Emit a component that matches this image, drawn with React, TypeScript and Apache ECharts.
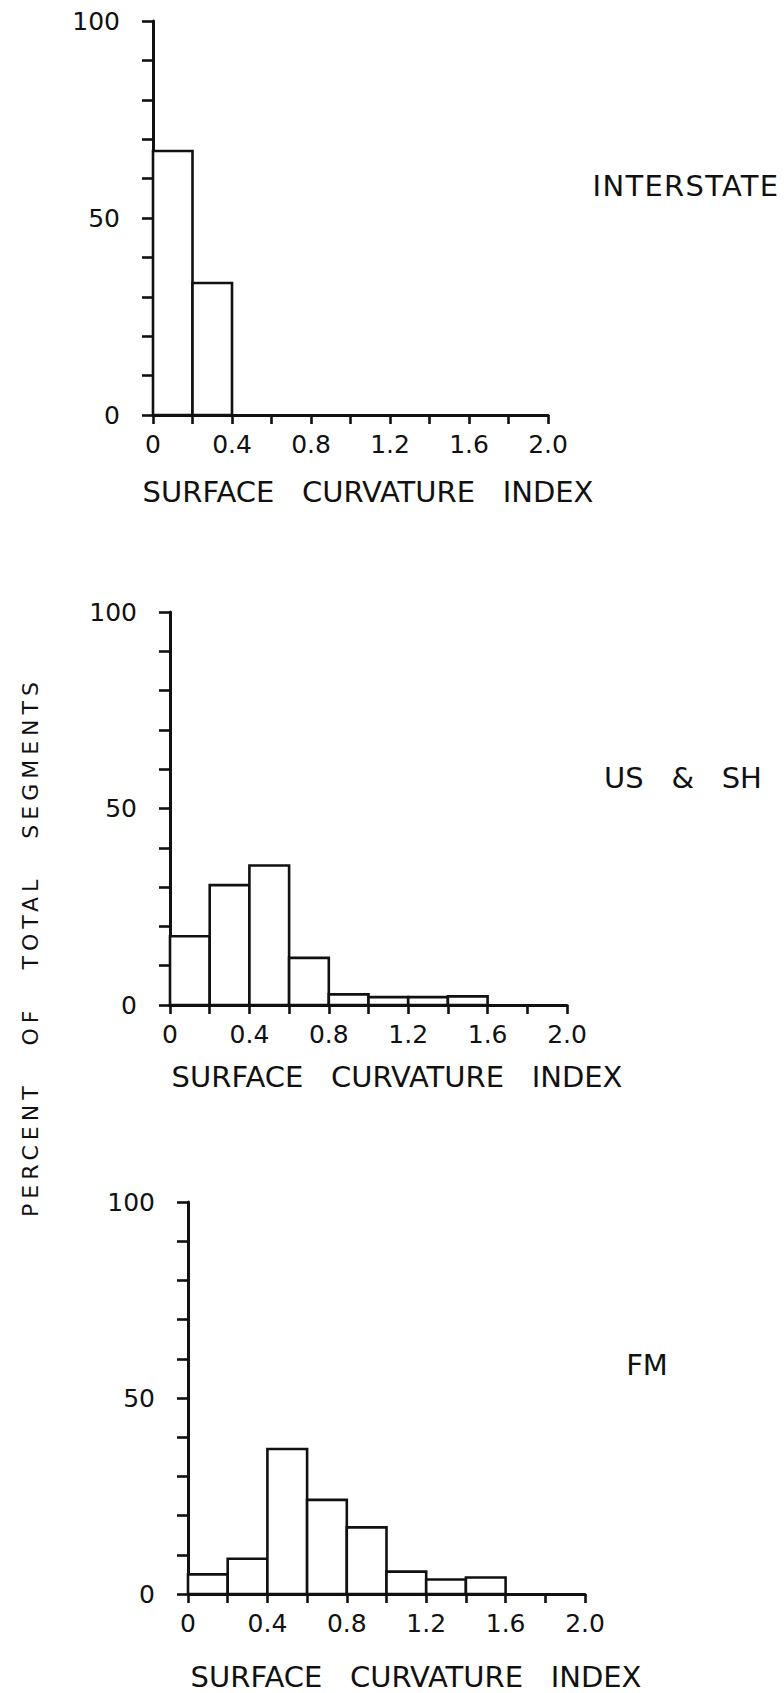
import React, { useEffect, useRef } from "react";
import * as echarts from "echarts";

// ---- data ----
const binStarts = [0, 0.2, 0.4, 0.6, 0.8, 1.0, 1.2, 1.4, 1.6, 1.8];
const binEnds = [0.2, 0.4, 0.6, 0.8, 1.0, 1.2, 1.4, 1.6, 1.8, 2.0];
const interstate = [67, 33.5, 0, 0, 0, 0, 0, 0, 0, 0];
const usSh = [17.5, 30.5, 35.5, 12, 2.7, 2, 2, 2.2, 0, 0];
const fm = [5, 9, 37, 24, 17, 5.7, 3.7, 4.2, 0, 0];
const panelNames = ["INTERSTATE", "US   &   SH", "FM"];
const xTickLabels = ["0", "0.4", "0.8", "1.2", "1.6", "2.0"];
const yTickLabels = ["0", "50", "100"];
const xTitle = "SURFACE   CURVATURE   INDEX";
const yTitle = "PERCENT   OF   TOTAL   SEGMENTS";

const FONT = "DejaVu Sans";
const INK = "#111";

export default function App() {
  const ref = useRef<HTMLDivElement>(null);
  useEffect(() => {
    document.body.style.margin = "0";
    if (!ref.current) return;
    const chart = echarts.init(ref.current, null, { renderer: "svg" });
    const grids = [
      { left: 153, top: 21, width: 395, height: 394 },
      { left: 170, top: 612, width: 397, height: 393 },
      { left: 188, top: 1202, width: 397, height: 392 },
    ];
    const seriesData = [interstate, usSh, fm];
    const xAxes = grids.map((_, i) => ({
      type: "value",
      gridIndex: i,
      min: 0,
      max: 2,
      interval: 0.2,
      splitLine: { show: false },
      axisLine: { show: true, lineStyle: { color: INK, width: 3 } },
      axisTick: { show: true, length: 9, lineStyle: { color: INK, width: 2.6 } },
      axisLabel: {
        color: INK,
        fontFamily: FONT,
        fontSize: 25,
        margin: 17,
        showMaxLabel: true,
        formatter: (v: number) => {
          const k = Math.round(v * 10);
          return k % 4 === 0 ? xTickLabels[k / 4] : "";
        },
      },
    }));
    const yAxes = grids.map((_, i) => ({
      type: "value",
      gridIndex: i,
      min: 0,
      max: 100,
      interval: 10,
      splitLine: { show: false },
      axisLine: { show: true, onZero: false, lineStyle: { color: INK, width: 3 } },
      axisTick: { show: true, length: 11, lineStyle: { color: INK, width: 2.6 } },
      axisLabel: {
        color: INK,
        fontFamily: FONT,
        fontSize: 25,
        margin: 33,
        formatter: (v: number) => {
          const k = Math.round(v);
          return k % 50 === 0 ? yTickLabels[k / 50] : "";
        },
      },
    }));
    const series = seriesData.map((vals, i) => ({
      type: "custom",
      xAxisIndex: i,
      yAxisIndex: i,
      silent: true,
      z: 3,
      encode: { x: [0, 1], y: 2 },
      data: binStarts
        .map((s, j) => [s, binEnds[j], vals[j]])
        .filter((d) => d[2] > 0),
      renderItem: (params: any, api: any) => {
        const p0 = api.coord([api.value(0), api.value(2)]);
        const p1 = api.coord([api.value(1), 0]);
        return {
          type: "rect",
          shape: { x: p0[0], y: p0[1], width: p1[0] - p0[0], height: p1[1] - p0[1] },
          style: { fill: "#fff", stroke: INK, lineWidth: 2.6 },
        };
      },
    }));
    const nameStyle = { fill: INK, font: `29px "${FONT}"`, align: "center", verticalAlign: "middle" };
    const xtStyle = { fill: INK, font: `29px "${FONT}"`, align: "center", verticalAlign: "middle" };
    const graphic: any[] = [
      { type: "text", silent: true, x: 686, y: 186, style: { ...nameStyle, text: panelNames[0] } },
      { type: "text", silent: true, x: 683, y: 778, style: { ...nameStyle, text: panelNames[1] } },
      { type: "text", silent: true, x: 647, y: 1365, style: { ...nameStyle, text: panelNames[2] } },
      { type: "text", silent: true, x: 368, y: 492, style: { ...xtStyle, text: xTitle } },
      { type: "text", silent: true, x: 397, y: 1077, style: { ...xtStyle, text: xTitle } },
      { type: "text", silent: true, x: 416, y: 1677, style: { ...xtStyle, text: xTitle } },
      {
        type: "text",
        silent: true,
        x: 30,
        y: 947,
        rotation: Math.PI / 2,
        style: { fill: INK, font: `22px "${FONT}"`, text: yTitle, align: "center", verticalAlign: "middle" },
      },
    ];
    chart.setOption({
      animation: false,
      backgroundColor: "#fff",
      grid: grids,
      xAxis: xAxes,
      yAxis: yAxes,
      series,
      graphic,
    });
    // widen the lettering of the hand-lettered labels
    const spacing: Record<string, number> = { [yTitle]: 5, [panelNames[0]]: 1.3 };
    const applySpacing = () => {
      if (!ref.current) return;
      ref.current.querySelectorAll("text").forEach((t) => {
        const L = spacing[t.textContent || ""];
        if (L) t.setAttribute("letter-spacing", String(L));
      });
    };
    applySpacing();
    chart.on("finished", applySpacing);
    const timer = window.setTimeout(applySpacing, 50);
    return () => {
      window.clearTimeout(timer);
      chart.dispose();
    };
  }, []);
  return <div ref={ref} style={{ width: 784, height: 1693 }} />;
}
